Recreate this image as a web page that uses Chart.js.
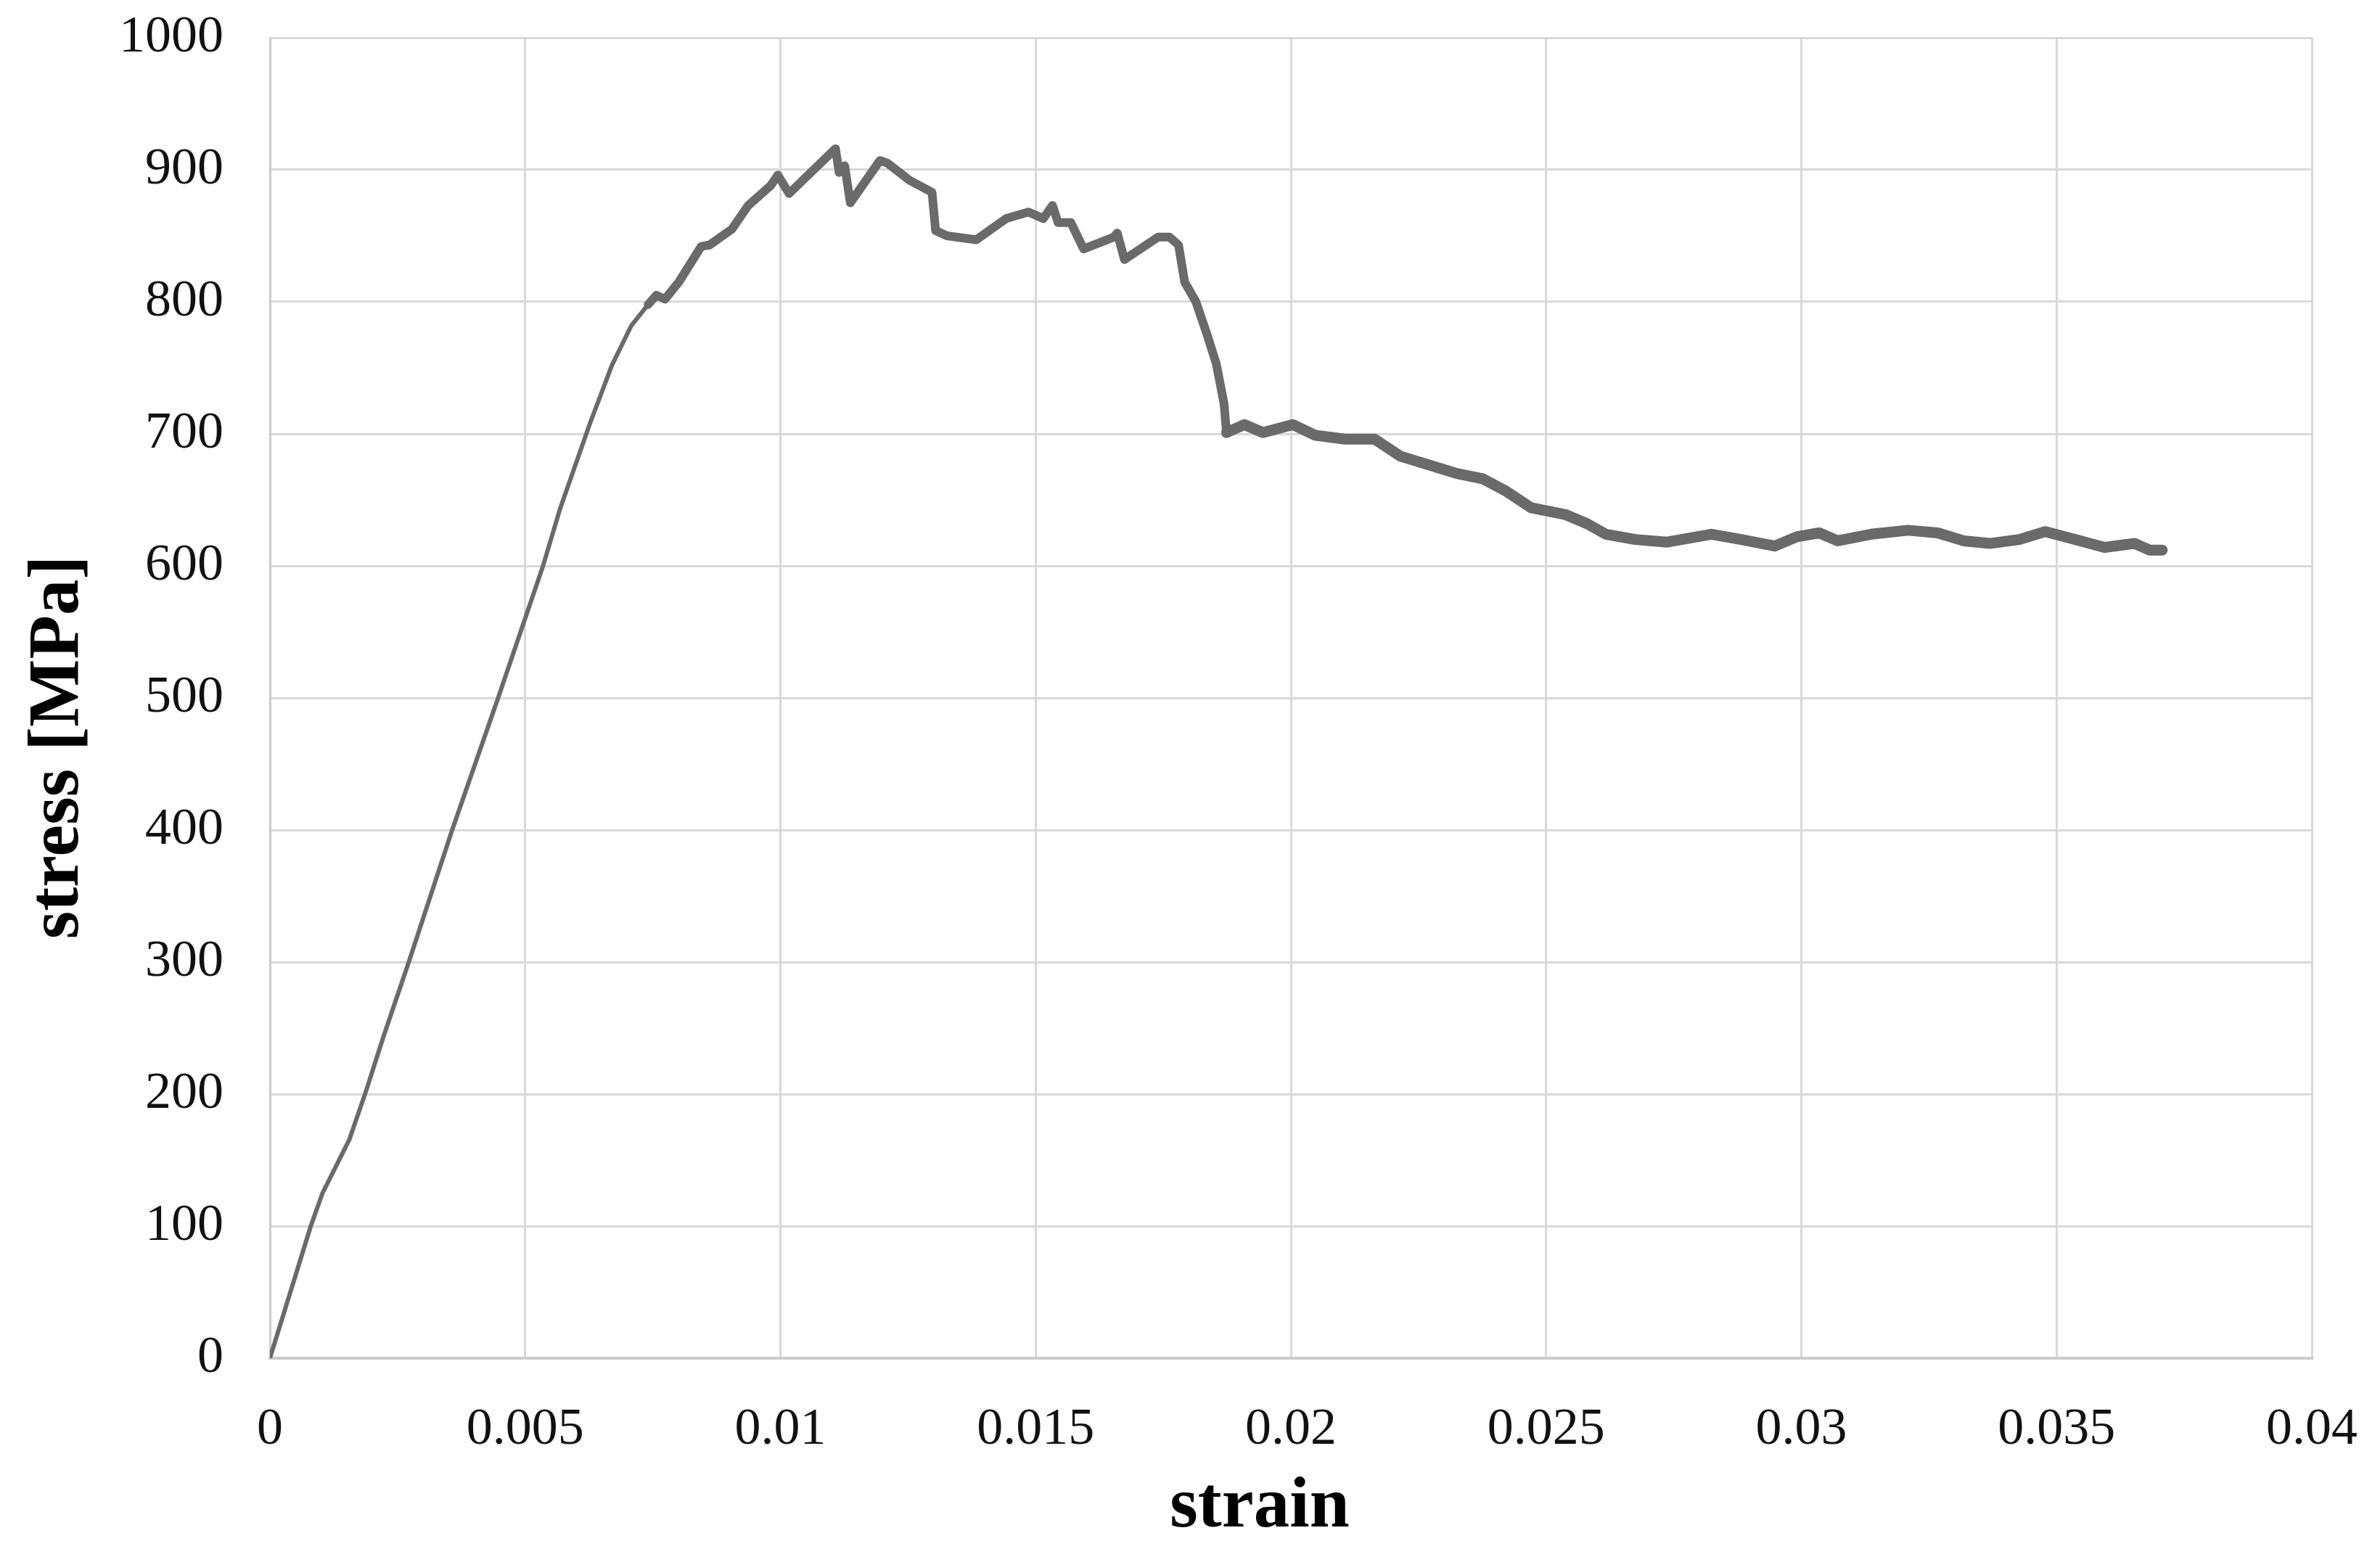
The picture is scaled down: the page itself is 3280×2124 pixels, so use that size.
<!DOCTYPE html>
<html>
<head>
<meta charset="utf-8">
<script src="https://cdn.jsdelivr.net/npm/chart.js@4/dist/chart.umd.min.js"></script>
<style>
  html, body { margin: 0; padding: 0; background: #ffffff; }
  #wrap { width: 3280px; height: 2124px; position: relative; }
</style>
</head>
<body>
<div id="wrap"><canvas id="c" width="3280" height="2124"></canvas></div>
<script>
// ---- Data ----
const strain = [
  0, 0.00028, 0.0008, 0.00103, 0.00155, 0.00188, 0.00222, 0.00272, 0.00357, 0.00447,
  0.00535, 0.00569, 0.00627, 0.0067, 0.00708, 0.00741, 0.00757, 0.00774, 0.00801, 0.00845,
  0.00861, 0.00905, 0.00937, 0.00981, 0.00995, 0.01017, 0.01108, 0.01115, 0.01126, 0.01137,
  0.01195, 0.0121, 0.01253, 0.01297, 0.01304, 0.01326, 0.01384, 0.01442, 0.01486, 0.01515,
  0.01533, 0.01544, 0.01569, 0.01594, 0.01653, 0.0166, 0.01674, 0.0174, 0.01762, 0.0178,
  0.01792, 0.01814, 0.01836, 0.01854, 0.01869, 0.01874, 0.01909, 0.01945, 0.02004, 0.02047,
  0.02106, 0.02164, 0.02215, 0.02266, 0.02325, 0.02376, 0.0242, 0.02471, 0.02537, 0.0258,
  0.02617, 0.02675, 0.02737, 0.02824, 0.02882, 0.02948, 0.02991, 0.03035, 0.03071, 0.03137,
  0.03209, 0.03267, 0.03318, 0.03369, 0.03427, 0.03478, 0.03536, 0.03594, 0.03653, 0.03682,
  0.03707
];
const stress = [
  0, 35, 100, 125, 165, 202, 243, 300, 400, 500,
  600, 644, 708, 752, 782, 798, 805, 802, 815, 842,
  843, 855, 873, 888, 896, 882, 916, 898, 903, 875,
  907, 905, 892, 883, 854, 850, 847, 863, 868, 863,
  873, 860, 860, 840, 849, 852, 832, 849, 849, 843,
  815, 800, 775, 753, 723, 701, 707, 701, 707, 699,
  696, 696, 683, 677, 670, 666, 657, 644, 639, 632,
  624, 620, 618, 624, 620, 615, 622, 625, 619, 624,
  627, 625, 619, 617, 620, 626, 620, 614, 617, 612,
  612
];
const xTickValues = [0, 0.005, 0.01, 0.015, 0.02, 0.025, 0.03, 0.035, 0.04];
const xTickLabels = ['0', '0.005', '0.01', '0.015', '0.02', '0.025', '0.03', '0.035', '0.04'];
const yTickValues = [0, 100, 200, 300, 400, 500, 600, 700, 800, 900, 1000];
const yTickLabels = ['0', '100', '200', '300', '400', '500', '600', '700', '800', '900', '1000'];
const xTitle = 'strain';
const yTitle = 'stress [MPa]';

const points = strain.map((s, i) => ({ x: s, y: stress[i] }));

const serif = "'Liberation Serif', 'Times New Roman', serif";
const gridColor = '#d9d9d9';

// Axis titles drawn relative to the chart area
const axisTitles = {
  id: 'axisTitles',
  afterDraw(chart) {
    const { ctx, chartArea } = chart;
    const w = chartArea.right - chartArea.left;
    ctx.save();
    ctx.fillStyle = '#000';
    ctx.font = 'bold 99px ' + serif;
    ctx.textAlign = 'center';
    ctx.textBaseline = 'alphabetic';
    ctx.fillText(xTitle, chartArea.left + w * 0.4847, chartArea.bottom + 232);
    ctx.translate(chartArea.left - 265, chartArea.top + 978);
    ctx.rotate(-Math.PI / 2);
    ctx.fillText(yTitle, 0, 0);
    ctx.restore();
  }
};

const zeroPad = axis => {
  axis.paddingTop = 0; axis.paddingBottom = 0;
  axis.paddingLeft = 0; axis.paddingRight = 0;
};

new Chart(document.getElementById('c'), {
  type: 'scatter',
  data: {
    datasets: [{
      data: points,
      showLine: true,
      borderColor: '#6a6a6a',
      backgroundColor: '#6a6a6a',
      borderWidth: 8,
      pointRadius: 0,
      tension: 0,
      borderJoinStyle: 'round',
      borderCapStyle: 'round',
      segment: {
        borderWidth: ctx => (ctx.p0.parsed.x < 0.0072 ? 6 : (ctx.p0.parsed.x < 0.0187 ? 12 : 15))
      }
    }]
  },
  plugins: [axisTitles],
  options: {
    responsive: false,
    animation: false,
    devicePixelRatio: 1,
    layout: { padding: { left: 0, right: 94, top: 52, bottom: 0 } },
    plugins: { legend: { display: false }, tooltip: { enabled: false } },
    scales: {
      x: {
        type: 'linear',
        min: 0, max: 0.04,
        afterBuildTicks: axis => { axis.ticks = xTickValues.map(v => ({ value: v })); },
        afterFit: axis => { axis.height = 252; zeroPad(axis); },
        ticks: {
          autoSkip: false,
          maxRotation: 0,
          padding: 56,
          color: '#111',
          font: { family: serif, size: 72 },
          callback: (v, i) => xTickLabels[i]
        },
        grid: { color: gridColor, lineWidth: 3, drawTicks: false },
        border: { color: '#cccccc', width: 4 }
      },
      y: {
        type: 'linear',
        min: 0, max: 1000,
        afterBuildTicks: axis => { axis.ticks = yTickValues.map(v => ({ value: v })); },
        afterFit: axis => { axis.width = 372; zeroPad(axis); },
        ticks: {
          autoSkip: false,
          padding: 64,
          color: '#111',
          font: { family: serif, size: 72 },
          callback: (v, i) => yTickLabels[i]
        },
        grid: { color: gridColor, lineWidth: 3, drawTicks: false },
        border: { color: '#cccccc', width: 3 }
      }
    }
  }
});
</script>
</body>
</html>
